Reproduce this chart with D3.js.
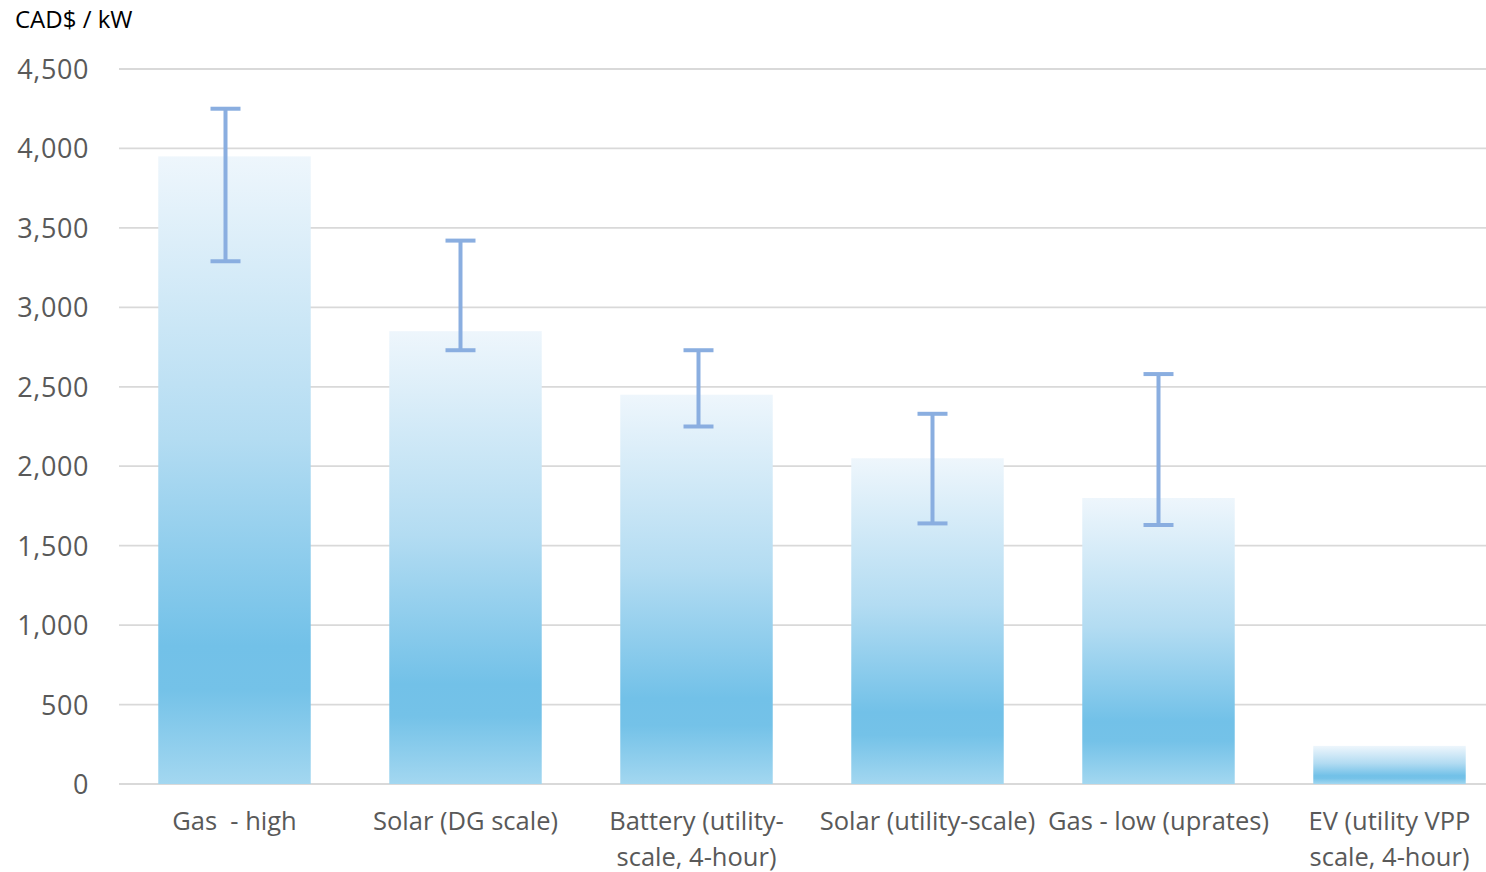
<!DOCTYPE html>
<html><head><meta charset="utf-8">
<script src="https://cdn.jsdelivr.net/npm/d3@7"></script>
<style>html,body{margin:0;padding:0;background:#fff;} svg{display:block;}</style>
</head><body>
<script>
// ---- data ----
const categories = [["Gas  - high"], ["Solar (DG scale)"], ["Battery (utility-", "scale, 4-hour)"], ["Solar (utility-scale)"], ["Gas - low (uprates)"], ["EV (utility VPP", "scale, 4-hour)"]];
const values = [3950, 2850, 2450, 2050, 1800, 240];
const errHigh = [4250, 3420, 2730, 2330, 2580, null];
const errLow = [3290, 2730, 2250, 1640, 1630, null];
const yTicks = [0, 500, 1000, 1500, 2000, 2500, 3000, 3500, 4000, 4500];
const yTitle = "CAD$ / kW";

// ---- layout ----
const W = 1486, H = 872;
const svg = d3.select("body").append("svg").attr("width", W).attr("height", H);
const font = "'Open Sans', 'Noto Sans', sans-serif";
const x = d3.scaleBand().domain(d3.range(categories.length)).range([119, 1505]).paddingInner(0.34).paddingOuter(0.17);
const y = d3.scaleLinear().domain([0, 4500]).range([784, 69]);
const errDx = [-9, -5, 2, 5, 0, 0];

const defs = svg.append("defs");
const g = defs.append("linearGradient").attr("id", "bg").attr("x1", 0).attr("y1", 0).attr("x2", 0).attr("y2", 1);
[[0, "#eef6fc"], [0.45, "#b3dcf2"], [0.78, "#72c1e8"], [0.85, "#74c2e8"], [1, "#a3d7f0"]].forEach(s =>
  g.append("stop").attr("offset", s[0]).attr("stop-color", s[1]));

// gridlines
svg.append("g").selectAll("line").data(yTicks).join("line")
  .attr("x1", 119).attr("x2", 1486).attr("y1", d => y(d)).attr("y2", d => y(d))
  .attr("stroke", "#d9d9d9").attr("stroke-width", 1.8);

// y axis labels
const yAxis = d3.axisLeft(y).tickValues(yTicks).tickFormat(d3.format(",")).tickSize(0).tickPadding(0);
const ya = svg.append("g").attr("transform", "translate(89,0)").call(yAxis);
ya.select(".domain").remove();
ya.selectAll("text").attr("font-family", font).attr("font-size", 27).attr("letter-spacing", 0.6).attr("fill", "#595959").attr("dy", "0.35em");

svg.append("text").attr("x", 15).attr("y", 28).attr("font-family", font).attr("font-size", 24).attr("fill", "#000").text(yTitle);

// bars
svg.append("g").selectAll("rect").data(values).join("rect")
  .attr("x", (d, i) => x(i)).attr("width", x.bandwidth())
  .attr("y", d => y(d)).attr("height", d => y(0) - y(d))
  .attr("fill", "url(#bg)");

// error bars
const eg = svg.append("g").attr("stroke", "#8aaee0").attr("stroke-width", 4);
values.forEach((v, i) => {
  if (errHigh[i] == null) return;
  const cx = x(i) + x.bandwidth() / 2 + errDx[i];
  eg.append("line").attr("x1", cx).attr("x2", cx).attr("y1", y(errHigh[i])).attr("y2", y(errLow[i]));
  [errHigh[i], errLow[i]].forEach(e =>
    eg.append("line").attr("x1", cx - 15).attr("x2", cx + 15).attr("y1", y(e)).attr("y2", y(e)));
});

// x labels
const xl = svg.append("g");
categories.forEach((lines, i) => {
  const t = xl.append("text").attr("x", x(i) + x.bandwidth() / 2).attr("y", 830)
    .attr("text-anchor", "middle").attr("font-family", font).attr("font-size", 25.5).attr("fill", "#595959")
    .attr("xml:space", "preserve").style("white-space", "pre");
  lines.forEach((l, j) => t.append("tspan").attr("x", x(i) + x.bandwidth() / 2).attr("dy", j ? 36 : 0).text(l));
});
</script>
</body></html>
